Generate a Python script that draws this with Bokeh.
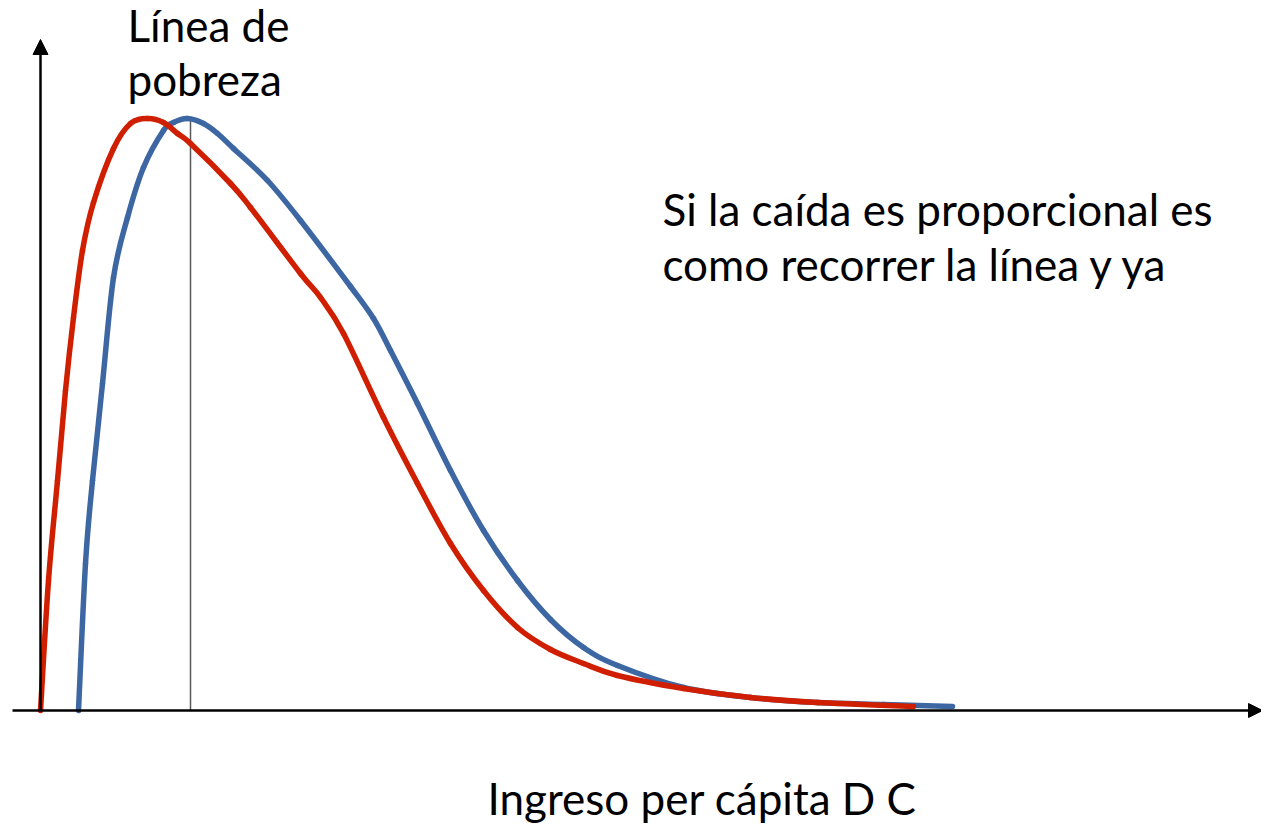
from bokeh.plotting import figure
from bokeh.models import Range1d, Arrow, NormalHead
from bokeh.core.properties import value
from bokeh.embed import file_html
from bokeh.resources import INLINE

# Income (arbitrary units) and density
red_income = [0, 8, 17, 25, 33, 42, 53, 73, 90, 107, 123, 137, 150, 190, 210, 260, 280,
              303, 343, 377, 410, 443, 477, 510, 543, 577, 643, 710, 777, 873]
red_density = [0, 130, 230, 320, 393, 460, 508, 562, 587, 592, 588, 577, 567, 527, 503,
               437, 413, 377, 293, 227, 167, 120, 83, 61, 47, 35, 22, 13, 8, 4]

blue_income = [38, 45, 52, 62, 73, 87, 103, 123, 133, 147, 163, 177, 193, 227, 260, 310, 333,
               350, 377, 410, 443, 477, 510, 543, 577, 643, 710, 777, 843, 912]
blue_density = [0, 147, 230, 327, 433, 493, 543, 580, 588, 592, 587, 577, 562, 530, 490, 424,
                392, 360, 307, 240, 180, 130, 91, 63, 45, 23, 13, 8, 6, 4]

poverty_line = [150]
poverty_top = [592]

label_poverty = ["Línea de", "pobreza"]
label_note = ["Si la caída es proporcional es", "como recorrer la línea y ya"]
label_x = "Ingreso per cápita D C"

FONT = "Lato"
FS = "44px"
RED = "#d01f00"
BLUE = "#3d67a3"


def smooth_segments(xs, ys):
    """Catmull-Rom control points so Bokeh's bezier glyph passes through every read point."""
    n = len(xs)
    x0, y0, x1, y1, cx0, cy0, cx1, cy1 = [], [], [], [], [], [], [], []
    for i in range(n - 1):
        ip = max(i - 1, 0)
        inn = min(i + 2, n - 1)
        x0.append(xs[i]); y0.append(ys[i])
        x1.append(xs[i + 1]); y1.append(ys[i + 1])
        cx0.append(xs[i] + (xs[i + 1] - xs[ip]) / 6.0)
        cy0.append(ys[i] + (ys[i + 1] - ys[ip]) / 6.0)
        cx1.append(xs[i + 1] - (xs[inn] - xs[i]) / 6.0)
        cy1.append(ys[i + 1] - (ys[inn] - ys[i]) / 6.0)
    return dict(x0=x0, y0=y0, x1=x1, y1=y1, cx0=cx0, cy0=cy0, cx1=cx1, cy1=cy1)


p = figure(width=1261, height=826, output_backend="svg", toolbar_location=None,
           x_range=Range1d(-40, 1221), y_range=Range1d(-116, 710),
           min_border=0, outline_line_color=None)
p.axis.visible = False
p.grid.visible = False
p.background_fill_color = "white"
p.border_fill_color = "white"

# axes with arrows
p.add_layout(Arrow(x_start=-28, y_start=0, x_end=1222, y_end=0, line_width=2.5,
                   line_color="black",
                   end=NormalHead(size=14, fill_color="black", line_color="black")))
p.add_layout(Arrow(x_start=0, y_start=0, x_end=0, y_end=671, line_width=2.5,
                   line_color="black",
                   end=NormalHead(size=15, fill_color="black", line_color="black")))

# poverty line
p.segment(x0=poverty_line, y0=[0], x1=poverty_line, y1=poverty_top,
          line_color="#595959", line_width=1.5)

p.bezier(**smooth_segments(blue_income, blue_density),
         line_color=BLUE, line_width=5.5, line_cap="round")
p.bezier(**smooth_segments(red_income, red_density),
         line_color=RED, line_width=5.5, line_cap="round")

p.text(x=[87, 87], y=[686, 632], text=label_poverty, text_font=value(FONT),
       text_font_size=FS, text_baseline="alphabetic", text_align="left",
       text_color="black")
p.text(x=[622, 622], y=[502, 447], text=label_note, text_font=value(FONT),
       text_font_size=FS, text_baseline="alphabetic", text_align="left",
       text_color="black")
p.text(x=[447], y=[-87], text=[label_x], text_font=value(FONT),
       text_font_size=FS, text_baseline="alphabetic", text_align="left",
       text_color="black")

open("out.html", "w").write(file_html(p, INLINE))
